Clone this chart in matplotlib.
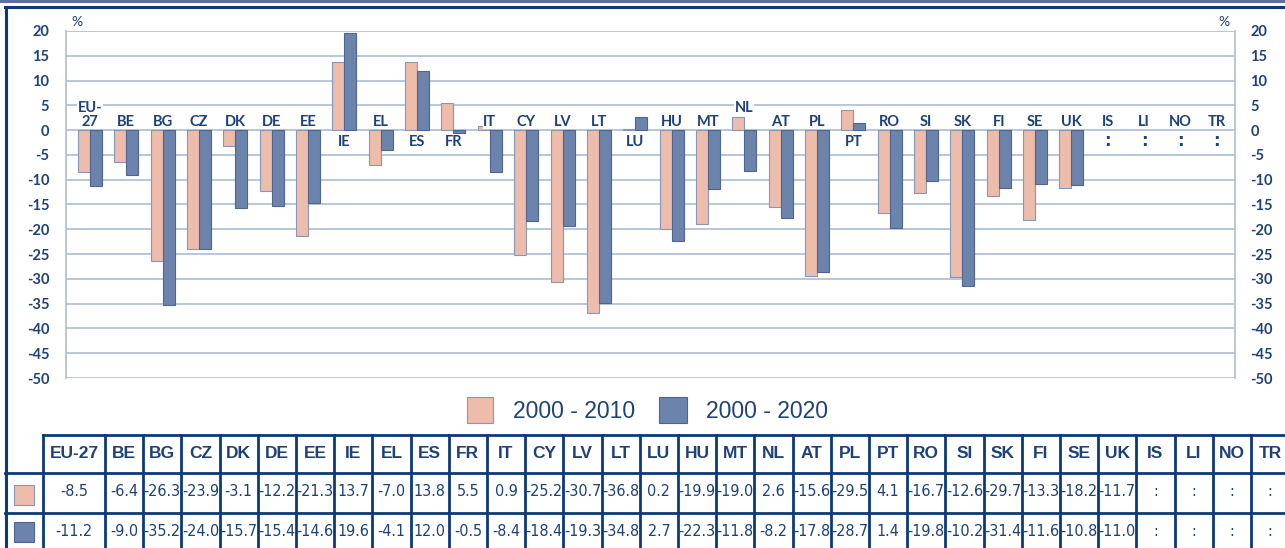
import numpy as np
import matplotlib
matplotlib.use('Agg')
import matplotlib.pyplot as plt
from matplotlib.patches import Rectangle
from matplotlib.lines import Line2D
from matplotlib import font_manager
from matplotlib.font_manager import FontProperties

# data (None = not available)
countries = ['EU-27', 'BE', 'BG', 'CZ', 'DK', 'DE', 'EE', 'IE', 'EL', 'ES', 'FR', 'IT',
             'CY', 'LV', 'LT', 'LU', 'HU', 'MT', 'NL', 'AT', 'PL', 'PT', 'RO', 'SI',
             'SK', 'FI', 'SE', 'UK', 'IS', 'LI', 'NO', 'TR']
v2010 = [-8.5, -6.4, -26.3, -23.9, -3.1, -12.2, -21.3, 13.7, -7.0, 13.8, 5.5, 0.9,
         -25.2, -30.7, -36.8, 0.2, -19.9, -19.0, 2.6, -15.6, -29.5, 4.1, -16.7, -12.6,
         -29.7, -13.3, -18.2, -11.7, None, None, None, None]
v2020 = [-11.2, -9.0, -35.2, -24.0, -15.7, -15.4, -14.6, 19.6, -4.1, 12.0, -0.5, -8.4,
         -18.4, -19.3, -34.8, 2.7, -22.3, -11.8, -8.2, -17.8, -28.7, 1.4, -19.8, -10.2,
         -31.4, -11.6, -10.8, -11.0, None, None, None, None]
series_names = ['2000 - 2010', '2000 - 2020']
yticks = list(range(-50, 25, 5))

W, H = 1285, 548
salmon = '#eebcab'
blue = '#6c83ac'
navy = '#0b3a78'
txt = '#1d4178'
grid = '#b2c2da'

# the table uses a condensed sans; take one if the system has it
cond = None
for f in font_manager.fontManager.ttflist:
	tag = (f.name + ' ' + f.fname).lower()
	if f.weight in (400, 'normal', 'regular') and f.style == 'normal' and \
			('narrow' in tag or 'condensed' in tag) and 'sans' in tag:
		cond = f.fname
		break
if cond:
	num_fp = FontProperties(fname=cond, size=11.5)
else:
	num_fp = FontProperties(family='Liberation Sans', size=10.3)

def fx(x):
	return x / W

def fy(y):
	return 1 - y / H

fig = plt.figure(figsize=(W / 100, H / 100), dpi=100)

# chart area
ax = fig.add_axes([fx(66), fy(378), fx(1235) - fx(66), fy(31) - fy(378)])
x = np.arange(len(countries))
a = np.array([np.nan if v is None else v for v in v2010])
b = np.array([np.nan if v is None else v for v in v2020])
bw = 0.33
ax.bar(x - bw, a, bw, align='edge', color=salmon, edgecolor='#8797b8', linewidth=0.8, zorder=3)
ax.bar(x, b, bw, align='edge', color=blue, edgecolor='#4d6594', linewidth=0.8, zorder=3)

ax.set_xlim(-0.66, 31.5)
ax.set_ylim(-50, 20)
ax.set_yticks(yticks)
ax.set_xticks([])
for t in yticks:
	ax.axhline(t, color=grid, lw=1.3, zorder=1)
for s in ['top', 'bottom']:
	ax.spines[s].set_visible(False)
for s in ['left', 'right']:
	ax.spines[s].set_color(grid)
	ax.spines[s].set_linewidth(1.3)
ax.tick_params(axis='y', length=0, pad=12, labelsize=10.5, labelcolor=txt)
ax2 = ax.twinx()
ax2.set_ylim(-50, 20)
ax2.set_yticks(yticks)
ax2.tick_params(axis='y', length=0, pad=11, labelsize=10.5, labelcolor=txt)
for s in ax2.spines.values():
	s.set_visible(False)
for axis in (ax, ax2):
	for lab in axis.get_yticklabels():
		lab.set_fontfamily('Lato')
		lab.set_fontweight('bold')
	axis.yaxis.set_major_formatter(matplotlib.ticker.FuncFormatter(lambda v, p: '%d' % v))

ax.text(0.005, 1.01, '%', transform=ax.transAxes, ha='left', va='bottom', color=txt, fontsize=10, family='Lato')
ax.text(0.995, 1.01, '%', transform=ax.transAxes, ha='right', va='bottom', color=txt, fontsize=10, family='Lato')

# category labels, above zero for mostly negative pairs, below for positive ones
lbl = dict(ha='center', fontsize=10.5, family='Lato', fontweight='bold', color=txt, zorder=4,
           bbox=dict(facecolor='white', edgecolor='none', pad=0.5))
for i, c in enumerate(countries):
	name = 'EU-\n27' if c == 'EU-27' else c
	if v2010[i] is None:
		ax.text(i, 0.3, name, va='bottom', **lbl)
		ax.text(i, -0.4, ':', ha='center', va='top', fontsize=12, fontweight='bold', color=txt)
		continue
	lo = min(v2010[i], v2020[i])
	if lo >= -1:
		ax.text(i, -1.0, name, va='top', **lbl)
	else:
		top = max(0, v2010[i], v2020[i])
		ax.text(i, 0.3 if top < 1.5 else top + 0.5, name, va='bottom', linespacing=0.95, **lbl)

# legend
fig.patches.append(Rectangle((fx(467), fy(423)), fx(26), fy(397) - fy(423), transform=fig.transFigure,
                             facecolor=salmon, edgecolor='#8797b8', lw=0.8))
fig.patches.append(Rectangle((fx(659), fy(423)), fx(28), fy(397) - fy(423), transform=fig.transFigure,
                             facecolor=blue, edgecolor='#4d6594', lw=0.8))
fig.text(fx(513), fy(411), series_names[0], ha='left', va='center', fontsize=16.5, color=txt, family='Liberation Sans')
fig.text(fx(706), fy(411), series_names[1], ha='left', va='center', fontsize=16.5, color=txt, family='Liberation Sans')

# frame
def hline(y, x0, x1, c=navy, lw=2.0):
	fig.lines.append(Line2D([fx(x0), fx(x1)], [fy(y), fy(y)], transform=fig.transFigure, color=c, lw=lw, zorder=5))

def vline(x0, y0, y1, c=navy, lw=2.0):
	fig.lines.append(Line2D([fx(x0), fx(x0)], [fy(y0), fy(y1)], transform=fig.transFigure, color=c, lw=lw, zorder=5))

hline(1, 0, W, c='#5c70a0', lw=2.2)
hline(7, 5, W, lw=2.2)
vline(6, 7, H, lw=2.2)

# table
col_w = 38.2
edges = [43, 105] + [105 + col_w * k for k in range(1, len(countries))]
edges.append(edges[-1] + col_w)
hline(435, 43, W)
hline(473, 5, W)
hline(513, 5, W)
for e in edges:
	vline(e, 435, H)
centers = [(edges[k] + edges[k + 1]) / 2 for k in range(len(countries))]
for k, c in enumerate(countries):
	fig.text(fx(centers[k]), fy(454), c, ha='center', va='center', fontsize=12.5, fontweight='bold',
	         color=txt, family='Liberation Sans', zorder=1)
	for vals, yy in ((v2010, 492), (v2020, 531)):
		s = ':' if vals[k] is None else '%.1f' % vals[k]
		fig.text(fx(centers[k]), fy(yy), s, ha='center', va='center', fontproperties=num_fp,
		         color=txt, zorder=1)
fig.patches.append(Rectangle((fx(14), fy(505)), fx(20), fy(485) - fy(505), transform=fig.transFigure,
                             facecolor=salmon, edgecolor='#8797b8', lw=0.8))
fig.patches.append(Rectangle((fx(14), fy(542)), fx(20), fy(522) - fy(542), transform=fig.transFigure,
                             facecolor=blue, edgecolor='#4d6594', lw=0.8))

fig.savefig('out.png', dpi=100)
